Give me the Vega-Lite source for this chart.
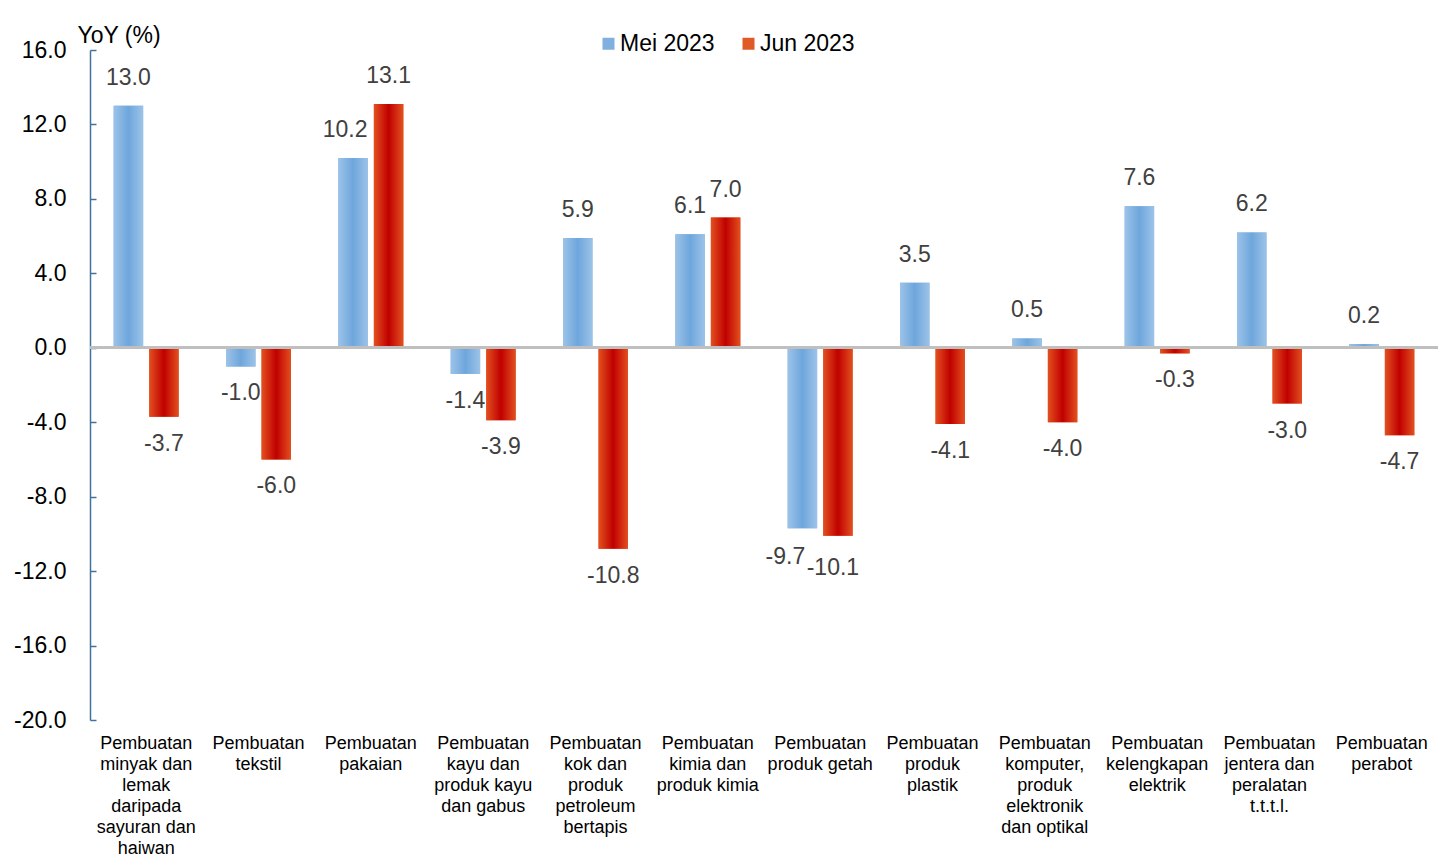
{
  "$schema": "https://vega.github.io/schema/vega-lite/v6.json",
  "width": 1348,
  "height": 670,
  "autosize": {"type": "none"},
  "padding": {"left": 90, "top": 50, "right": 17, "bottom": 144},
  "background": "white",
  "config": {
    "font": "Liberation Sans",
    "view": {"stroke": null},
    "text": {"baseline": "middle", "align": "center", "fontSize": 23, "color": "#404040"}
  },
  "data": {
    "values": [
      {"sektor": "Pembuatan|minyak dan|lemak|daripada|sayuran dan|haiwan", "bulan": "Mei 2023", "yoy": 13.0},
      {"sektor": "Pembuatan|minyak dan|lemak|daripada|sayuran dan|haiwan", "bulan": "Jun 2023", "yoy": -3.7},
      {"sektor": "Pembuatan|tekstil", "bulan": "Mei 2023", "yoy": -1.0},
      {"sektor": "Pembuatan|tekstil", "bulan": "Jun 2023", "yoy": -6.0},
      {"sektor": "Pembuatan|pakaian", "bulan": "Mei 2023", "yoy": 10.2},
      {"sektor": "Pembuatan|pakaian", "bulan": "Jun 2023", "yoy": 13.1},
      {"sektor": "Pembuatan|kayu dan|produk kayu|dan gabus", "bulan": "Mei 2023", "yoy": -1.4},
      {"sektor": "Pembuatan|kayu dan|produk kayu|dan gabus", "bulan": "Jun 2023", "yoy": -3.9},
      {"sektor": "Pembuatan|kok dan|produk|petroleum|bertapis", "bulan": "Mei 2023", "yoy": 5.9},
      {"sektor": "Pembuatan|kok dan|produk|petroleum|bertapis", "bulan": "Jun 2023", "yoy": -10.8},
      {"sektor": "Pembuatan|kimia dan|produk kimia", "bulan": "Mei 2023", "yoy": 6.1},
      {"sektor": "Pembuatan|kimia dan|produk kimia", "bulan": "Jun 2023", "yoy": 7.0},
      {"sektor": "Pembuatan|produk getah", "bulan": "Mei 2023", "yoy": -9.7},
      {"sektor": "Pembuatan|produk getah", "bulan": "Jun 2023", "yoy": -10.1},
      {"sektor": "Pembuatan|produk|plastik", "bulan": "Mei 2023", "yoy": 3.5},
      {"sektor": "Pembuatan|produk|plastik", "bulan": "Jun 2023", "yoy": -4.1},
      {"sektor": "Pembuatan|komputer,|produk|elektronik|dan optikal", "bulan": "Mei 2023", "yoy": 0.5},
      {"sektor": "Pembuatan|komputer,|produk|elektronik|dan optikal", "bulan": "Jun 2023", "yoy": -4.0},
      {"sektor": "Pembuatan|kelengkapan|elektrik", "bulan": "Mei 2023", "yoy": 7.6},
      {"sektor": "Pembuatan|kelengkapan|elektrik", "bulan": "Jun 2023", "yoy": -0.3},
      {"sektor": "Pembuatan|jentera dan|peralatan|t.t.t.l.", "bulan": "Mei 2023", "yoy": 6.2},
      {"sektor": "Pembuatan|jentera dan|peralatan|t.t.t.l.", "bulan": "Jun 2023", "yoy": -3.0},
      {"sektor": "Pembuatan|perabot", "bulan": "Mei 2023", "yoy": 0.2},
      {"sektor": "Pembuatan|perabot", "bulan": "Jun 2023", "yoy": -4.7}
    ]
  },
  "transform": [
    {"calculate": "replace(format(datum.yoy, '.1f'), '\u2212', '-')", "as": "label"}
  ],
  "encoding": {
    "x": {
      "field": "sektor",
      "type": "nominal",
      "sort": null,
      "scale": {"paddingInner": 0.4213, "paddingOuter": 0.2107},
      "axis": {
        "title": null,
        "orient": "bottom",
        "domain": false,
        "ticks": false,
        "labelAngle": 0,
        "labelExpr": "split(datum.label, '|')",
        "labelFontSize": 18,
        "labelColor": "black",
        "labelBaseline": "top",
        "labelLineHeight": 21,
        "labelPadding": 14,
        "labelLimit": 300
      }
    },
    "xOffset": {
      "field": "bulan",
      "type": "nominal",
      "sort": ["Mei 2023", "Jun 2023"],
      "scale": {"paddingInner": 0.17, "paddingOuter": 0}
    },
    "y": {
      "field": "yoy",
      "type": "quantitative",
      "scale": {"domain": [-20, 16], "nice": false, "zero": false},
      "axis": {
        "title": "YoY (%)",
        "titleAngle": 0,
        "titleAlign": "left",
        "titleBaseline": "middle",
        "titleX": -13,
        "titleY": -15,
        "titleFontSize": 23,
        "titleFontWeight": "normal",
        "titleColor": "black",
        "values": [-20, -16, -12, -8, -4, 0, 4, 8, 12, 16],
        "labelExpr": "replace(format(datum.value, '.1f'), '\u2212', '-')",
        "labelFontSize": 23,
        "labelColor": "black",
        "labelPadding": 30,
        "grid": false,
        "domainColor": "#41719c",
        "domainWidth": 1.5,
        "tickColor": "#41719c",
        "tickWidth": 1.5,
        "tickSize": -6
      }
    }
  },
  "layer": [
    {
      "mark": {"type": "bar"},
      "encoding": {
        "color": {
          "field": "bulan",
          "type": "nominal",
          "sort": ["Mei 2023", "Jun 2023"],
          "scale": {"domain": ["Mei 2023", "Jun 2023"], "range": ["#7fb0e0", "#e05a28"]},
          "legend": {
            "title": null,
            "orient": "none",
            "direction": "horizontal",
            "legendX": 507,
            "legendY": -18,
            "symbolType": "square",
            "symbolSize": 144,
            "symbolStrokeWidth": 0,
            "labelFontSize": 23,
            "labelColor": "black",
            "labelOffset": 0,
            "columnPadding": 22
          }
        }
      }
    },
    {
      "mark": {"type": "bar"},
      "encoding": {
        "fill": {
          "condition": {
            "test": "datum.bulan === 'Mei 2023'",
            "value": {
              "gradient": "linear", "x1": 0, "y1": 0, "x2": 1, "y2": 0,
              "stops": [
                {"offset": 0, "color": "#9cc3e8"},
                {"offset": 0.5, "color": "#6ea6dc"},
                {"offset": 1, "color": "#9cc3e8"}
              ]
            }
          },
          "value": {
            "gradient": "linear", "x1": 0, "y1": 0, "x2": 1, "y2": 0,
            "stops": [
              {"offset": 0, "color": "#e2501f"},
              {"offset": 0.5, "color": "#c00000"},
              {"offset": 1, "color": "#e2501f"}
            ]
          }
        }
      }
    },
    {
      "mark": {"type": "rule", "color": "#bfbfbf", "strokeWidth": 2.5},
      "encoding": {"y": {"datum": 0}, "x": null, "xOffset": null}
    },
    {
      "transform": [{"filter": "datum.yoy >= 0 && !(datum.sektor === 'Pembuatan|pakaian' && datum.bulan === 'Mei 2023')"}],
      "mark": {"type": "text", "dy": -28},
      "encoding": {"text": {"field": "label"}}
    },
    {
      "transform": [{"filter": "datum.sektor === 'Pembuatan|pakaian' && datum.bulan === 'Mei 2023'"}],
      "mark": {"type": "text", "dy": -28, "dx": -8},
      "encoding": {"text": {"field": "label"}}
    },
    {
      "transform": [{"filter": "datum.yoy < 0 && datum.sektor !== 'Pembuatan|produk getah'"}],
      "mark": {"type": "text", "dy": 27},
      "encoding": {"text": {"field": "label"}}
    },
    {
      "transform": [{"filter": "datum.sektor === 'Pembuatan|produk getah' && datum.bulan === 'Mei 2023'"}],
      "mark": {"type": "text", "dy": 29, "dx": -17},
      "encoding": {"text": {"field": "label"}}
    },
    {
      "transform": [{"filter": "datum.sektor === 'Pembuatan|produk getah' && datum.bulan === 'Jun 2023'"}],
      "mark": {"type": "text", "dy": 32, "dx": -5},
      "encoding": {"text": {"field": "label"}}
    }
  ]
}
